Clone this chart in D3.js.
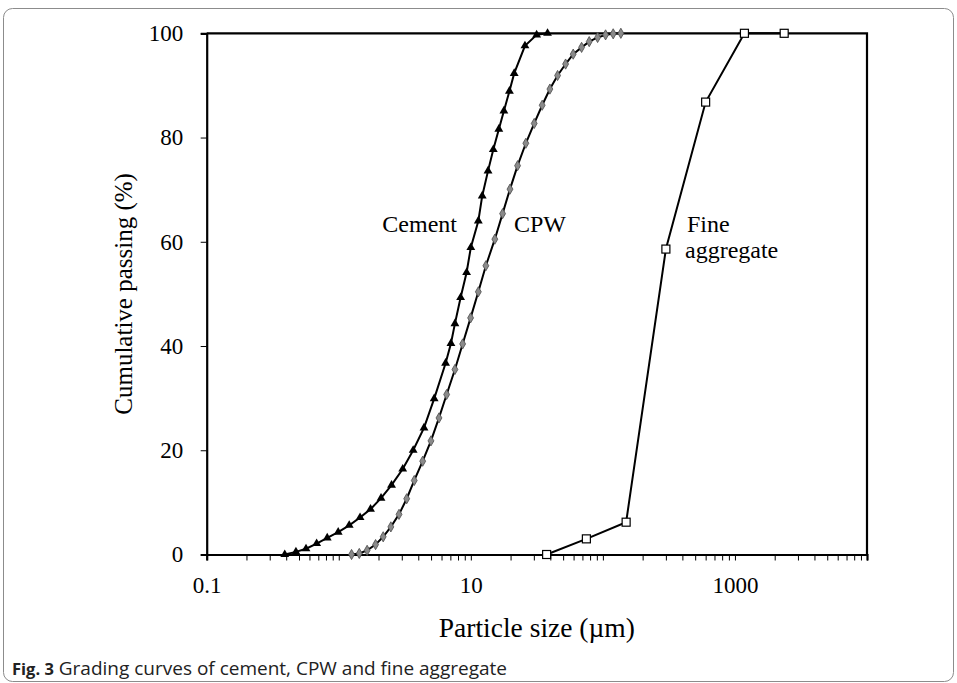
<!DOCTYPE html>
<html>
<head>
<meta charset="utf-8">
<script src="https://cdn.jsdelivr.net/npm/d3@7"></script>
<style>
  html, body { margin: 0; padding: 0; background: #fff; }
  svg { display: block; }
  .serif { font-family: "Liberation Serif", "Times New Roman", serif; }
</style>
</head>
<body>
<svg id="chart" width="957" height="683"></svg>
<script>
// Particle size distribution data (size in µm, cumulative passing in %)
const cementSize = [0.39, 0.474, 0.565, 0.68, 0.818, 0.99, 1.2, 1.45, 1.74, 2.09, 2.51, 3.05, 3.66, 4.42, 5.28,
  6.44, 7.07, 7.58, 8.37, 9.29, 10.0, 11.4, 12.2, 13.5, 14.8, 16.3, 17.8, 19.6, 21.3, 25.7, 31.5, 38.1];
const cementPassing = [0, 0.5, 1.1, 2.1, 3.2, 4.3, 5.6, 7.1, 8.7, 10.8, 13.3, 16.4, 20.0, 24.3, 29.9,
  36.7, 40.5, 44.3, 49.3, 54.1, 58.9, 64.0, 68.8, 73.6, 77.7, 81.6, 85.1, 88.9, 92.3, 97.6, 99.7, 100];

const cpwSize = [1.25, 1.43, 1.64, 1.9, 2.17, 2.48, 2.86, 3.27, 3.73, 4.32, 4.99, 5.74, 6.56,
  7.58, 8.67, 9.96, 11.4, 13.0, 15.2, 17.4, 19.8, 22.6, 26.1, 30.2, 34.7, 39.7, 45.4, 52.2, 59.6, 69.0,
  78.8, 91.2, 104.8, 119.7, 136.8];
const cpwPassing = [0, 0.2, 0.8, 1.9, 3.4, 5.3, 7.7, 10.7, 14.2, 17.9, 21.8, 26.2, 30.7,
  35.5, 40.4, 45.4, 50.4, 55.4, 60.5, 65.4, 70.1, 74.6, 78.9, 82.7, 86.2, 89.3, 91.9, 94.1, 96.0, 97.3,
  98.4, 99.2, 99.7, 99.9, 100];

const fineSize = [37.5, 75, 150, 300, 600, 1180, 2360];
const finePassing = [0, 3.0, 6.2, 58.6, 86.8, 100, 100];

const xTickLabels = [0.1, 10, 1000];
const yTicks = [0, 20, 40, 60, 80, 100];

const svg = d3.select("#chart");

// Figure border
svg.append("rect")
  .attr("x", 3.5).attr("y", 8.5)
  .attr("width", 950).attr("height", 673)
  .attr("rx", 9).attr("ry", 9)
  .attr("fill", "none").attr("stroke", "#8c8c8c").attr("stroke-width", 1);

const x = d3.scaleLog().domain([0.1, 10000]).range([206.7, 867]);
const y = d3.scaleLinear().domain([0, 100]).range([554.5, 33.3]);

// All decade sub-ticks for the log axis
const xTickVals = [];
for (let e = -1; e < 4; e++) {
  for (let m = 1; m < 10; m++) xTickVals.push(+(m * Math.pow(10, e)).toPrecision(3));
}
xTickVals.push(10000);

const xAxis = d3.axisBottom(x)
  .tickValues(xTickVals)
  .tickSize(6)
  .tickPadding(16)
  .tickFormat(d => xTickLabels.some(v => Math.abs(v - d) / v < 1e-6) ? d3.format("")(d) : "");

const yAxis = d3.axisLeft(y)
  .tickValues(yTicks)
  .tickSize(6)
  .tickPadding(17.5)
  .tickFormat(d3.format("d"));

const gx = svg.append("g")
  .attr("transform", `translate(0,${y(0)})`)
  .call(xAxis);
const gy = svg.append("g")
  .attr("transform", `translate(${x(0.1)},0)`)
  .call(yAxis);

[gx, gy].forEach(g => {
  g.select(".domain").attr("stroke", "#000").attr("stroke-width", 2.2);
  g.selectAll(".tick line").attr("stroke", "#000").attr("stroke-width", 1);
  g.selectAll(".tick text")
    .attr("class", "serif")
    .attr("font-size", 23)
    .attr("fill", "#000");
});

// Top and right frame lines
svg.append("path")
  .attr("d", `M${x(0.1)},${y(100)}H${x(10000)}V${y(0)}`)
  .attr("fill", "none").attr("stroke", "#000").attr("stroke-width", 2.2);

const line = d3.line().x(d => x(d[0])).y(d => y(d[1]));

function series(sizes, passing) {
  return sizes.map((s, i) => [s, passing[i]]);
}

const cement = series(cementSize, cementPassing);
const cpw = series(cpwSize, cpwPassing);
const fine = series(fineSize, finePassing);

const plot = svg.append("g");

[cement, cpw, fine].forEach(data => {
  plot.append("path")
    .datum(data)
    .attr("d", line)
    .attr("fill", "none")
    .attr("stroke", "#000")
    .attr("stroke-width", 2);
});

// Cement: filled black triangles
plot.selectAll(".tri").data(cement).enter().append("path")
  .attr("transform", d => `translate(${x(d[0])},${y(d[1])})`)
  .attr("d", d3.symbol().type(d3.symbolTriangle).size(34))
  .attr("fill", "#000");

// CPW: grey diamonds
plot.selectAll(".dia").data(cpw).enter().append("path")
  .attr("transform", d => `translate(${x(d[0])},${y(d[1])})`)
  .attr("d", d3.symbol().type(d3.symbolDiamond).size(30))
  .attr("fill", "#8a8a8a").attr("stroke", "#4a4a4a").attr("stroke-width", 0.8);

// Fine aggregate: open squares
plot.selectAll(".sq").data(fine).enter().append("rect")
  .attr("x", d => x(d[0]) - 4).attr("y", d => y(d[1]) - 4)
  .attr("width", 8).attr("height", 8)
  .attr("fill", "#fff").attr("stroke", "#000").attr("stroke-width", 1.2);

// Curve labels
const lab = svg.append("g").attr("class", "serif").attr("font-size", 24).attr("fill", "#000");
lab.append("text").attr("x", 457).attr("y", 232).attr("text-anchor", "end").text("Cement");
lab.append("text").attr("x", 514).attr("y", 232).text("CPW");
lab.append("text").attr("x", 687).attr("y", 232).text("Fine");
lab.append("text").attr("x", 685).attr("y", 258).text("aggregate");

// Axis titles
svg.append("text").attr("class", "serif").attr("font-size", 27.5)
  .attr("x", (x.range()[0] + x.range()[1]) / 2).attr("y", 637)
  .attr("text-anchor", "middle").text("Particle size (µm)");
svg.append("text").attr("class", "serif").attr("font-size", 25)
  .attr("transform", `translate(132,${(y(0) + y(100)) / 2}) rotate(-90)`)
  .attr("text-anchor", "middle").text("Cumulative passing (%)");

// Caption
const cap = svg.append("text")
  .attr("x", 12).attr("y", 675)
  .attr("font-family", "'Open Sans', 'Noto Sans', sans-serif")
  .attr("fill", "#222");
cap.append("tspan").attr("font-weight", "bold").attr("font-size", 16.5).text("Fig. 3");
cap.append("tspan").attr("font-size", 19).text(" Grading curves of cement, CPW and fine aggregate");
</script>
</body>
</html>
